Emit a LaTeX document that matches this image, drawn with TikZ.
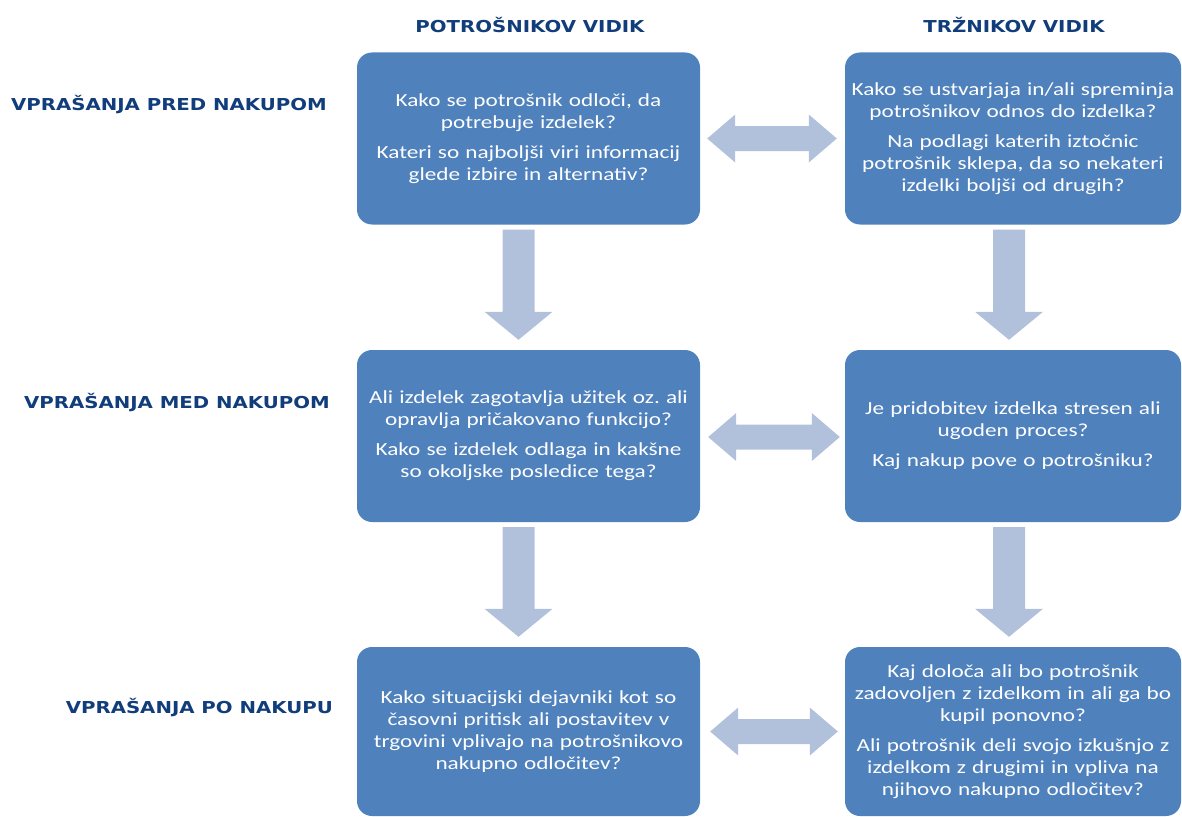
\documentclass[tikz,border=0pt]{standalone}
\usepackage{fontspec}
\setmainfont{Carlito}[FakeStretch=1.26]
\newfontfamily\headfont{DejaVu Sans}[FakeStretch=1.2]
\usetikzlibrary{calc}
\definecolor{boxblue}{HTML}{4F81BD}
\definecolor{arrowblue}{HTML}{B2C1DB}
\definecolor{headnavy}{HTML}{123D7B}
\frenchspacing

% vertical block arrow: shaft from #1 down to tip #2
\newcommand\qarrowdown[2]{%
  \fill[arrowblue] ($(#1)+(-16,0)$) -- ($(#1)+(16,0)$) -- ($(#2)+(16,-28)$)
    -- ($(#2)+(34,-28)$) -- (#2) -- ($(#2)+(-34,-28)$) -- ($(#2)+(-16,-28)$) -- cycle;}
% horizontal double block arrow between tips #1 (left) and #2 (right)
\newcommand\qarrowboth[2]{%
  \fill[arrowblue] (#1) -- ($(#1)+(28,-24)$) -- ($(#1)+(28,-12.5)$)
    -- ($(#2)+(-28,-12.5)$) -- ($(#2)+(-28,-24)$) -- (#2) -- ($(#2)+(-28,24)$)
    -- ($(#2)+(-28,12.5)$) -- ($(#1)+(28,12.5)$) -- ($(#1)+(28,24)$) -- cycle;}

\begin{document}
\begin{tikzpicture}[x=1bp,y=-1bp,
  qbox/.style={fill=boxblue, rounded corners=15bp, text=white, align=center,
    inner sep=0pt, text width=330bp, minimum height=172bp,
    font=\fontsize{18.5}{22}\selectfont},
  leftbox/.style={qbox, minimum width=343bp},
  rightbox/.style={qbox, minimum width=336bp},
  colhead/.style={text=headnavy, font=\headfont\bfseries\fontsize{16.5}{20}\selectfont},
  rowhead/.style={colhead, anchor=east, inner sep=0pt}]

\useasboundingbox (0,0) rectangle (1182,817);

% column headings
\node[colhead] (hL) at (530,25) {POTROŠNIKOV VIDIK};
\node[colhead] (hR) at (1014,25) {TRŽNIKOV VIDIK};

% row headings
\node[rowhead] (r1) at (327,105) {VPRAŠANJA PRED NAKUPOM};
\node[rowhead] (r2) at (330,403) {VPRAŠANJA MED NAKUPOM};
\node[rowhead] (r3) at (333,708) {VPRAŠANJA PO NAKUPU};

% consumer perspective
\node[leftbox] (c1) at (528.5,138.5) {Kako se potrošnik odloči, da\\potrebuje izdelek?\\[8bp]
  Kateri so najboljši viri informacij\\glede izbire in alternativ?};
\node[leftbox] (c2) at (528.5,436) {Ali izdelek zagotavlja užitek oz. ali\\opravlja pričakovano funkcijo?\\[8bp]
  Kako se izdelek odlaga in kakšne\\so okoljske posledice tega?};
\node[leftbox, minimum height=169bp] (c3) at (528.5,731.5) {Kako situacijski dejavniki kot so\\časovni pritisk ali postavitev v\\
  trgovini vplivajo na potrošnikovo\\nakupno odločitev?};

% marketer perspective
\node[rightbox] (m1) at (1013,138.5) {Kako se ustvarjaja in/ali spreminja\\potrošnikov odnos do izdelka?\\[8bp]
  Na podlagi katerih iztočnic\\potrošnik sklepa, da so nekateri\\izdelki boljši od drugih?};
\node[rightbox] (m2) at (1013,436) {Je pridobitev izdelka stresen ali\\ugoden proces?\\[8bp]
  Kaj nakup pove o potrošniku?};
\node[rightbox, minimum height=169bp] (m3) at (1013,731.5) {Kaj določa ali bo potrošnik\\zadovoljen z izdelkom in ali ga bo\\kupil ponovno?\\[8bp]
  Ali potrošnik deli svojo izkušnjo z\\izdelkom z drugimi in vpliva na\\njihovo nakupno odločitev?};

% downward arrows
\coordinate (c1s) at ($(c1.south)+(-10,5)$);
\coordinate (c2t) at ($(c2.north)+(-10,-10)$);
\coordinate (c2s) at ($(c2.south)+(-10,5)$);
\coordinate (c3t) at ($(c3.north)+(-10,-10)$);
\coordinate (m1s) at ($(m1.south)+(-4,5)$);
\coordinate (m2t) at ($(m2.north)+(-4,-10)$);
\coordinate (m2s) at ($(m2.south)+(-4,5)$);
\coordinate (m3t) at ($(m3.north)+(-4,-10)$);
\qarrowdown{c1s}{c2t}
\qarrowdown{c2s}{c3t}
\qarrowdown{m1s}{m2t}
\qarrowdown{m2s}{m3t}

% two-way arrows between the perspectives
\coordinate (a1l) at ($(c1.east)+(7,0)$);
\coordinate (a1r) at ($(m1.west)+(-8,0)$);
\coordinate (a2l) at ($(c2.east)+(8,1)$);
\coordinate (a2r) at ($(m2.west)+(-5,1)$);
\coordinate (a3l) at ($(c3.east)+(10,0)$);
\coordinate (a3r) at ($(m3.west)+(-7,0)$);
\qarrowboth{a1l}{a1r}
\qarrowboth{a2l}{a2r}
\qarrowboth{a3l}{a3r}
\end{tikzpicture}
\end{document}
